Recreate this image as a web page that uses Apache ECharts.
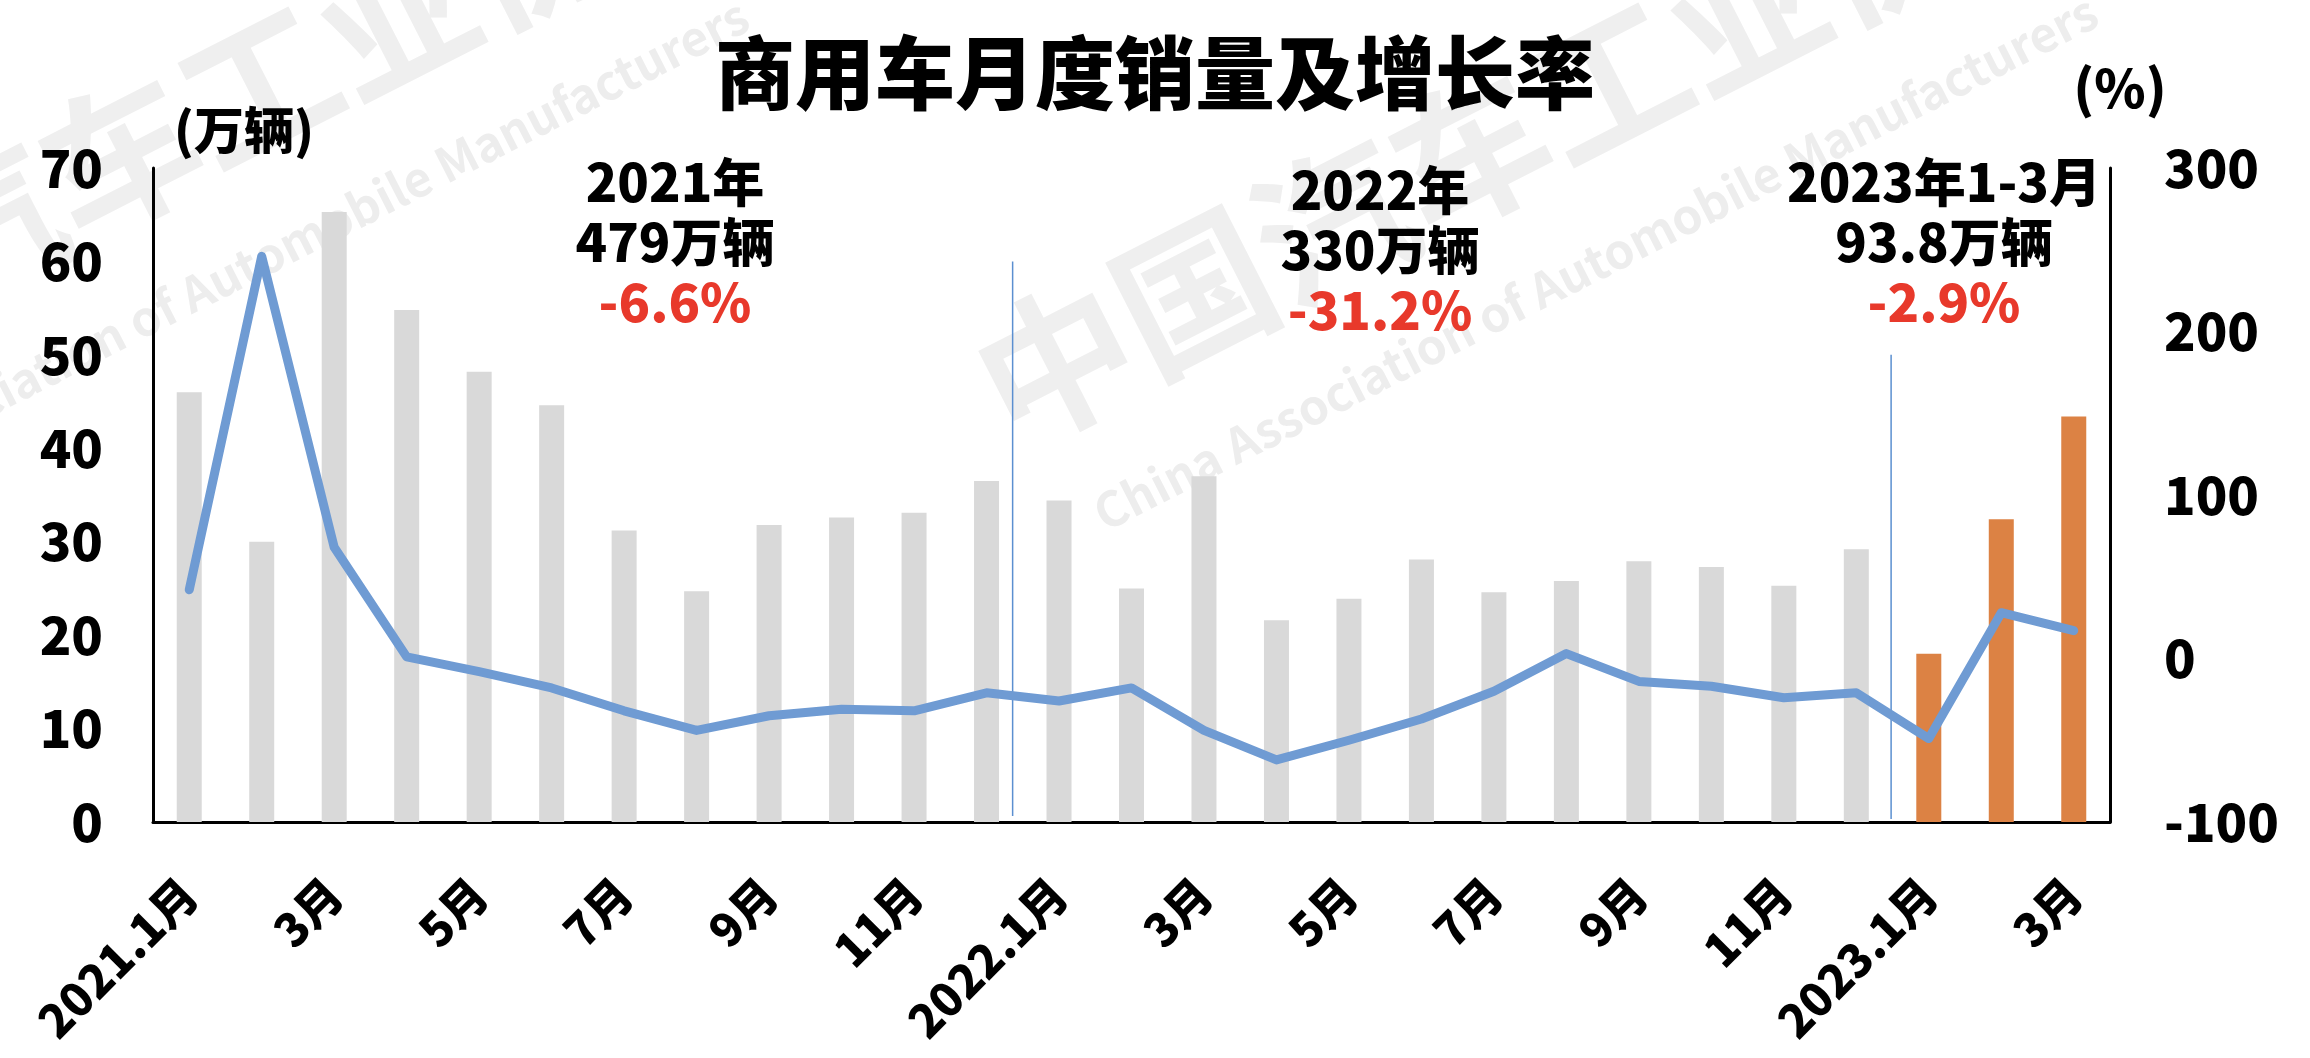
<!DOCTYPE html>
<html>
<head>
<meta charset="utf-8">
<script src="https://cdn.jsdelivr.net/npm/echarts@6/dist/echarts.min.js"></script>
<style>
html,body{margin:0;padding:0;background:#fff;}
#chart{width:2310px;height:1058px;}
</style>
</head>
<body>
<div id="chart"></div>
<script>
// ---- data ----
const months = ['2021.1月','2月','3月','4月','5月','6月','7月','8月','9月','10月','11月','12月',
                '2022.1月','2月','3月','4月','5月','6月','7月','8月','9月','10月','11月','12月',
                '2023.1月','2月','3月'];
const salesWan = [46.0, 30.0, 65.3, 54.8, 48.2, 44.6, 31.2, 24.7, 31.8, 32.6, 33.1, 36.5,
                  34.4, 25.0, 37.0, 21.6, 23.9, 28.1, 24.6, 25.8, 27.9, 27.3, 25.3, 29.2,
                  18.0, 32.4, 43.4];
const growthPct = [42, 246, 68, 1, -8, -18, -32, -44, -35, -31, -32, -21,
                   -26, -18, -44, -62, -50, -37, -20, 3, -14, -17, -24, -21,
                   -49, 28, 17];
const leftTicks = [0, 10, 20, 30, 40, 50, 60, 70];
const rightTicks = [-100, 0, 100, 200, 300];
const yearBlocks = [
  ['2021年', '479万辆', '-6.6%'],
  ['2022年', '330万辆', '-31.2%'],
  ['2023年1-3月', '93.8万辆', '-2.9%']
];
const currentYearStart = '2023.1月';

// ---- style ----
const FONT = '"Noto Sans CJK SC", "Noto Sans", sans-serif';
const W = 900;
const GRAY = '#d9d9d9';
const ORANGE = '#dc8244';
const LINE = '#6f9bd3';
const RED = '#e8392b';

const chart = echarts.init(document.getElementById('chart'), null, {renderer: 'canvas'});
const startIdx = months.indexOf(currentYearStart);

function wm(x, y, xe, ye) {
  const rot = 27 * Math.PI / 180;
  return [
    {type: 'text', x: x, y: y, rotation: rot, z: -10, silent: true,
     style: {text: '中国汽车工业协会', fill: '#efefef', font: 'bold 155px ' + FONT,
             textAlign: 'left', textVerticalAlign: 'middle'}},
    {type: 'text', x: xe, y: ye, rotation: rot, z: -10, silent: true,
     style: {text: 'China Association of Automobile Manufacturers', fill: '#ededed',
             font: '600 48px ' + FONT, textAlign: 'left', textVerticalAlign: 'middle'}}
  ];
}

const option = {
  backgroundColor: '#fff',
  animation: false,
  title: {
    text: '商用车月度销量及增长率', left: 'center', top: 28,
    textStyle: {fontSize: 80, fontWeight: W, color: '#000', fontFamily: FONT}
  },
  grid: {left: 153, right: 200, top: 168, bottom: 236, containLabel: false},
  xAxis: {
    type: 'category', data: months, boundaryGap: true,
    axisLine: {show: true, lineStyle: {color: '#000', width: 3}},
    axisTick: {show: false},
    axisLabel: {interval: 1, rotate: 45, margin: 64, fontSize: 46, fontWeight: W,
                color: '#000', fontFamily: FONT}
  },
  yAxis: [
    {type: 'value', min: leftTicks[0], max: leftTicks[leftTicks.length - 1], interval: 10,
     axisLine: {show: true, lineStyle: {color: '#000', width: 3}},
     axisTick: {show: false}, splitLine: {show: false},
     axisLabel: {margin: 50, fontSize: 52, fontWeight: W, color: '#000', fontFamily: FONT}},
    {type: 'value', position: 'right', min: rightTicks[0], max: rightTicks[rightTicks.length - 1], interval: 100,
     axisLine: {show: true, lineStyle: {color: '#000', width: 3}},
     axisTick: {show: false}, splitLine: {show: false},
     axisLabel: {margin: 54, fontSize: 52, fontWeight: W, color: '#000', fontFamily: FONT}}
  ],
  series: [
    {type: 'bar', name: '销量', data: salesWan, barWidth: 25, yAxisIndex: 0, z: 2,
     itemStyle: {color: p => (p.dataIndex >= startIdx ? ORANGE : GRAY)}},
    {type: 'line', name: '增长率', data: growthPct, yAxisIndex: 1, z: 5,
     symbol: 'none', lineStyle: {color: LINE, width: 9, join: 'round', cap: 'round'},
     itemStyle: {color: LINE}}
  ]
};
chart.setOption(option);

// dividers + annotations placed from the library's scales
function catX(i) { return chart.convertToPixel({xAxisIndex: 0}, i); }
function yL(v) { return chart.convertToPixel({yAxisIndex: 0}, v); }
const x1 = catX(11) + 0.36 * (catX(12) - catX(11));
const x2 = catX(23) + 0.48 * (catX(24) - catX(23));

const blockPos = [[675, 182], [1380, 190], [1944, 182]];
const graphics = [].concat(wm(987, 398, 1097, 516), wm(-363, 402, -252, 520));
graphics.push(
  {type: 'line', z: 3, silent: true, shape: {x1: x1, y1: yL(60), x2: x1, y2: yL(0) - 6},
   style: {stroke: '#5b8fd0', lineWidth: 1.5}},
  {type: 'line', z: 3, silent: true, shape: {x1: x2, y1: yL(50), x2: x2, y2: yL(0) - 3},
   style: {stroke: '#5b8fd0', lineWidth: 1.5}},
  {type: 'text', x: 244, y: 130, style: {text: '(万辆)', fill: '#000', font: W + ' 50px ' + FONT,
   textAlign: 'center', textVerticalAlign: 'middle'}},
  {type: 'text', x: 2120, y: 88, style: {text: '(%)', fill: '#000', font: W + ' 52px ' + FONT,
   textAlign: 'center', textVerticalAlign: 'middle'}}
);
yearBlocks.forEach((b, i) => {
  const [cx, cy] = blockPos[i];
  b.forEach((t, j) => {
    graphics.push({type: 'text', x: cx, y: cy + j * 60, z: 6,
      style: {text: t, fill: j === 2 ? RED : '#000', font: W + ' 52px ' + FONT,
              textAlign: 'center', textVerticalAlign: 'middle'}});
  });
});
chart.setOption({graphic: graphics});
</script>
</body>
</html>
